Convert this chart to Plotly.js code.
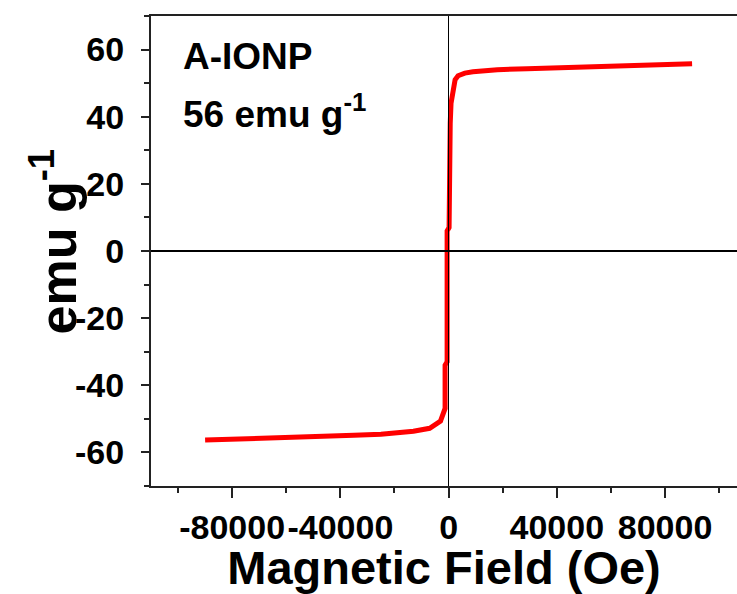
<!DOCTYPE html>
<html>
<head>
<meta charset="utf-8">
<script src="https://cdn.plot.ly/plotly-3.0.1.min.js"></script>
<style>
  html, body { margin: 0; padding: 0; background: #fff; }
  #chart { width: 737px; height: 594px; }
</style>
</head>
<body>
<div id="chart"></div>
<script>
// Magnetic field (Oe) and magnetisation (emu/g)
const fieldOe = [-90000, -80000, -70000, -60000, -45000, -35000, -25000, -13000, -7000, -3000,
                 -1300, -1300, -550, -550, 180, 180, 600, 900, 1600, 2400, 3500, 6000, 9000,
                 18000, 29000, 40000, 52000, 64000, 76000, 90000];
const momentEmu = [-56.3, -56.1, -55.8, -55.6, -55.2, -54.9, -54.6, -53.7, -52.8, -50.7,
                   -46.9, -34.0, -33.0, 6.0, 7.0, 33.0, 38.0, 44.0, 48.0, 51.0, 52.2, 53.0, 53.4,
                   54.0, 54.3, 54.6, 54.9, 55.2, 55.5, 55.8];

// Tick values and labels
const xTickVals = [-80000, -40000, 0, 40000, 80000];
const xTickText = ["-80000", "-40000", "0", "40000", "80000"];
const yTickVals = [-60, -40, -20, 0, 20, 40, 60];
const yTickText = ["-60", "-40", "-20", "0", "20", "40", "60"];

const sampleName = "A-IONP";
const msLabel = "56 emu g<sup>-1</sup>";
const xTitle = "Magnetic Field (Oe)";
const yTitle = "emu g<sup>-1</sup>";

const FONT = "Liberation Sans, Arial, Helvetica, sans-serif";
const AX = "#222222";

const trace = {
  x: fieldOe, y: momentEmu, type: "scatter", mode: "lines",
  line: { color: "#ff0000", width: 5 },
  hoverinfo: "skip"
};

const layout = {
  width: 737, height: 594,
  margin: { l: 151, r: 0, t: 16, b: 108 },
  paper_bgcolor: "#ffffff", plot_bgcolor: "#ffffff",
  showlegend: false,
  font: { family: FONT, color: "#000000" },
  xaxis: {
    range: [-110000, 106600],
    showgrid: false,
    zeroline: true, zerolinecolor: "#000000", zerolinewidth: 1.5,
    zerolinelayer: "above traces",
    showline: true, linecolor: AX, linewidth: 2, mirror: true,
    ticks: "outside", ticklen: 10, tickwidth: 2, tickcolor: AX,
    tickmode: "array", tickvals: xTickVals, ticktext: xTickText,
    tickangle: 0,
    minor: { tickmode: "linear", tick0: 0, dtick: 20000, ticks: "outside", ticklen: 5, tickwidth: 2, tickcolor: AX, showgrid: false },
    tickfont: { family: FONT, size: 34, color: "#000000", weight: "bold" },
    ticklabelstandoff: 0,
    title: { text: xTitle, font: { family: FONT, size: 47, color: "#000000", weight: "bold" }, standoff: 3 },
    automargin: false,
    fixedrange: true
  },
  yaxis: {
    range: [-70, 70],
    showgrid: false,
    zeroline: true, zerolinecolor: "#000000", zerolinewidth: 1.5,
    zerolinelayer: "above traces",
    showline: true, linecolor: AX, linewidth: 2, mirror: false,
    ticks: "outside", ticklen: 8, tickwidth: 2, tickcolor: AX,
    tickmode: "array", tickvals: yTickVals, ticktext: yTickText,
    minor: { tickmode: "linear", tick0: 0, dtick: 10, ticks: "outside", ticklen: 5, tickwidth: 2, tickcolor: AX, showgrid: false },
    tickfont: { family: FONT, size: 34, color: "#000000", weight: "bold" },
    ticklabelstandoff: 10,
    automargin: false,
    fixedrange: true
  },
  annotations: [
    { text: "<b>" + sampleName + "</b>", xref: "paper", yref: "paper", x: 0.051, y: 0.913,
      xanchor: "left", yanchor: "middle", showarrow: false,
      font: { family: FONT, size: 37, color: "#000000" } },
    { text: "<b>" + msLabel + "</b>", xref: "paper", yref: "paper", x: 0.051, y: 0.797,
      xanchor: "left", yanchor: "middle", showarrow: false,
      font: { family: FONT, size: 37, color: "#000000" } },
    { text: "<b>" + yTitle + "</b>", xref: "paper", yref: "paper", x: -0.165, y: 0.521,
      xanchor: "center", yanchor: "middle", textangle: -90, showarrow: false,
      font: { family: FONT, size: 52, color: "#000000" } }
  ]
};

Plotly.newPlot("chart", [trace], layout, { staticPlot: true, displayModeBar: false });
</script>
</body>
</html>
